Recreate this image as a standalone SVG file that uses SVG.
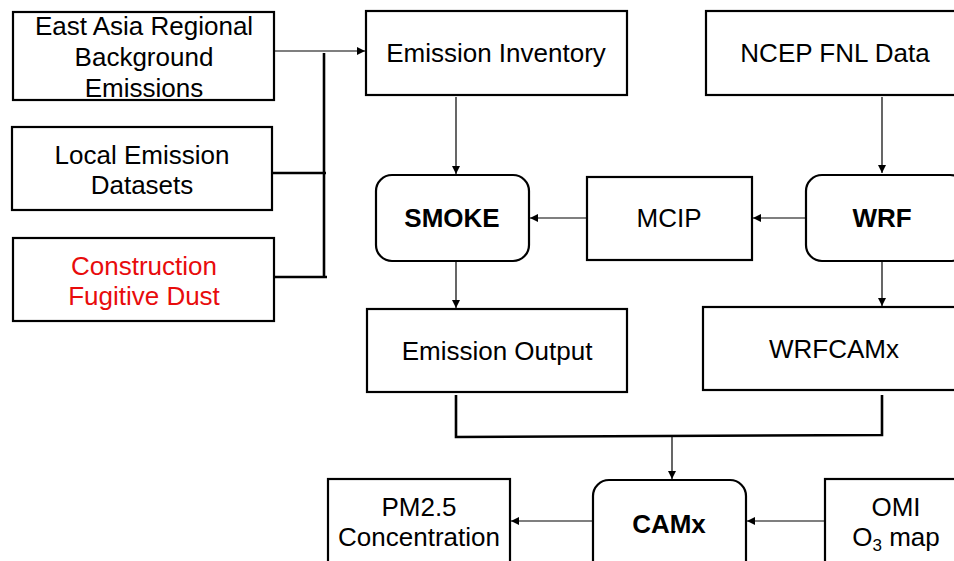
<svg xmlns="http://www.w3.org/2000/svg" width="954" height="561" viewBox="0 0 954 561">
<defs>
<marker id="ah" viewBox="0 0 10 10" refX="10" refY="5" markerWidth="8" markerHeight="8" markerUnits="userSpaceOnUse" orient="auto">
<path d="M0,0 L10,5 L0,10 z" fill="#000"/>
</marker>
</defs>
<style>
.box{fill:#fff;stroke:#000;stroke-width:2.2}
.t{font-family:"Liberation Sans",Arial,sans-serif;font-size:26px;fill:#000;text-anchor:middle}
.b{font-weight:bold}
.red{fill:#e80c0c}
.c{fill:none;stroke:#000;stroke-width:1.2}
.bus{fill:none;stroke:#000;stroke-width:2.6}
</style>
<rect width="954" height="561" fill="#fff"/>
<g id="connectors">
<line class="c" x1="274" y1="51" x2="365" y2="51" marker-end="url(#ah)"/>
<polyline class="bus" points="324,53 324,277"/>
<line class="bus" x1="272" y1="173" x2="326" y2="173"/>
<line class="bus" x1="274" y1="277" x2="327" y2="277"/>
<line class="c" x1="456" y1="97" x2="456" y2="174" marker-end="url(#ah)"/>
<line class="c" x1="882" y1="97" x2="882" y2="173" marker-end="url(#ah)"/>
<line class="c" x1="587" y1="218" x2="530" y2="218" marker-end="url(#ah)"/>
<line class="c" x1="806" y1="218" x2="753" y2="218" marker-end="url(#ah)"/>
<line class="c" x1="456" y1="262" x2="456" y2="308" marker-end="url(#ah)"/>
<line class="c" x1="882" y1="262" x2="882" y2="306" marker-end="url(#ah)"/>
<polyline class="bus" points="456,395 456,437 882,435 882,395"/>
<line class="c" x1="672" y1="437" x2="672" y2="479" marker-end="url(#ah)"/>
<line class="c" x1="593" y1="521" x2="511" y2="521" marker-end="url(#ah)"/>
<line class="c" x1="825" y1="521" x2="747" y2="521" marker-end="url(#ah)"/>
</g>
<g id="east-asia">
<rect class="box" x="13" y="12" width="261" height="88"/>
<text class="t" x="144" y="35">East Asia Regional</text>
<text class="t" x="144" y="66">Background</text>
<text class="t" x="144" y="97">Emissions</text>
</g>
<g id="local-emission">
<rect class="box" x="12" y="127" width="260" height="83"/>
<text class="t" x="142" y="164">Local Emission</text>
<text class="t" x="142" y="194">Datasets</text>
</g>
<g id="construction-dust">
<rect class="box" x="13" y="238" width="261" height="83"/>
<text class="t red" x="144" y="275">Construction</text>
<text class="t red" x="144" y="305">Fugitive Dust</text>
</g>
<g id="emission-inventory">
<rect class="box" x="366" y="11" width="261" height="84"/>
<text class="t" x="496" y="62">Emission Inventory</text>
</g>
<g id="ncep">
<rect class="box" x="706" y="11" width="260" height="84"/>
<text class="t" x="835" y="62">NCEP FNL Data</text>
</g>
<g id="smoke">
<rect class="box" x="376" y="175" width="153" height="86" rx="16"/>
<text class="t b" x="452" y="227">SMOKE</text>
</g>
<g id="mcip">
<rect class="box" x="587" y="177" width="165" height="83"/>
<text class="t" x="669" y="227">MCIP</text>
</g>
<g id="wrf">
<rect class="box" x="806" y="175" width="160" height="86" rx="16"/>
<text class="t b" x="882" y="227">WRF</text>
</g>
<g id="emission-output">
<rect class="box" x="367" y="309" width="260" height="83"/>
<text class="t" x="497" y="360">Emission Output</text>
</g>
<g id="wrfcamx">
<rect class="box" x="703" y="307" width="262" height="83"/>
<text class="t" x="834" y="358">WRFCAMx</text>
</g>
<g id="camx">
<rect class="box" x="593" y="480" width="153" height="100" rx="16"/>
<text class="t b" x="669" y="533">CAMx</text>
</g>
<g id="pm25">
<rect class="box" x="328" y="479" width="182" height="100"/>
<text class="t" x="419" y="516">PM2.5</text>
<text class="t" x="419" y="546">Concentration</text>
</g>
<g id="omi">
<rect class="box" x="825" y="479" width="140" height="100"/>
<text class="t" x="896" y="516">OMI</text>
<text class="t" x="896" y="546">O<tspan font-size="17" dy="5">3</tspan><tspan dy="-5"> map</tspan></text>
</g>
</svg>
